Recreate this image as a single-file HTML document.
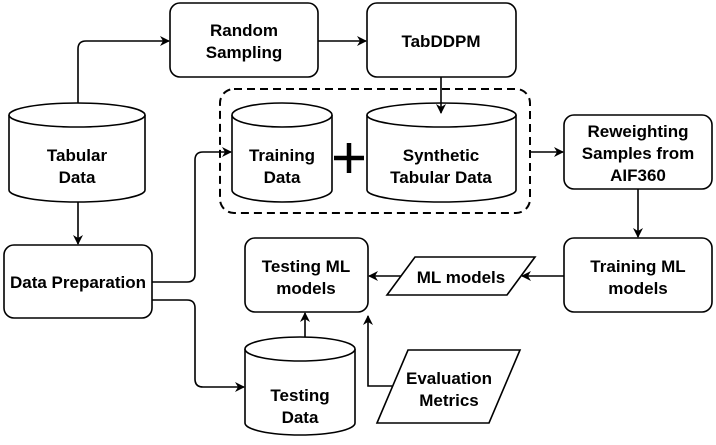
<!DOCTYPE html>
<html><head><meta charset="utf-8"><style>body{margin:0;background:#fff}</style></head><body>
<svg width="716" height="440" viewBox="0 0 716 440" xmlns="http://www.w3.org/2000/svg" font-family="Liberation Sans, sans-serif" font-weight="bold" font-size="17">
<defs><marker id="a" markerWidth="10" markerHeight="10" refX="9" refY="5" orient="auto" markerUnits="userSpaceOnUse"><path d="M0,0 L10,5 L0,10 L3,5 z" fill="#000"/></marker></defs>
<g fill="#fff" stroke="#000" stroke-width="1.6">
<rect x="170" y="3" width="148" height="74" rx="10"/>
<rect x="367" y="3" width="149" height="74" rx="10"/>
<rect x="220" y="89" width="310" height="124" rx="14" stroke-dasharray="8,5" stroke-width="2" fill="none"/>
<rect x="564" y="115" width="148" height="74" rx="10"/>
<rect x="564" y="238" width="148" height="74" rx="10"/>
<rect x="245" y="238" width="123" height="74" rx="10"/>
<rect x="4" y="245" width="148" height="73" rx="10"/>
<path d="M387,295 L415,257 L535,257 L507,295 z"/>
<path d="M377,423 L408,350 L520,350 L489,423 z"/>
<path d="M9,115 v75 a68,12 0 0 0 136,0 v-75"/><ellipse cx="77" cy="115" rx="68" ry="12"/>
<path d="M232,115 v75 a50,12 0 0 0 100,0 v-75"/><ellipse cx="282" cy="115" rx="50" ry="12"/>
<path d="M367,115 v75 a74.5,12 0 0 0 149,0 v-75"/><ellipse cx="441.5" cy="115" rx="74.5" ry="12"/>
<path d="M245,349 v74 a55,12 0 0 0 110,0 v-74"/><ellipse cx="300" cy="349" rx="55" ry="12"/>
</g>
<g fill="none" stroke="#000" stroke-width="1.6">
<path d="M78,103 V49 q0,-8 8,-8 H169" marker-end="url(#a)"/>
<path d="M318,41 H366" marker-end="url(#a)"/>
<path d="M441,77 V113" marker-end="url(#a)"/>
<path d="M78,202 V244" marker-end="url(#a)"/>
<path d="M152,282 H187 q8,0 8,-8 V160 q0,-8 8,-8 H231" marker-end="url(#a)"/>
<path d="M152,300 H187 q8,0 8,8 V379 q0,8 8,8 H244" marker-end="url(#a)"/>
<path d="M530,152 H563" marker-end="url(#a)"/>
<path d="M638,189 V237" marker-end="url(#a)"/>
<path d="M564,276 H522" marker-end="url(#a)"/>
<path d="M401,276 H369" marker-end="url(#a)"/>
<path d="M305,337 V313" marker-end="url(#a)"/>
<path d="M392,386 H368 V316" marker-end="url(#a)"/>
</g>
<g stroke="#000" stroke-width="4.5"><path d="M334,158 H364 M349,143 V173"/></g>
<g text-anchor="middle" fill="#000">
<text x="244" y="36">Random</text><text x="244" y="58">Sampling</text>
<text x="441" y="47">TabDDPM</text>
<text x="77" y="161">Tabular</text><text x="77" y="183">Data</text>
<text x="282" y="161">Training</text><text x="282" y="183">Data</text>
<text x="441" y="161">Synthetic</text><text x="441" y="183">Tabular Data</text>
<text x="638" y="137">Reweighting</text><text x="638" y="159">Samples from</text><text x="638" y="181">AIF360</text>
<text x="638" y="272">Training ML</text><text x="638" y="294">models</text>
<text x="461" y="283">ML models</text>
<text x="306" y="272">Testing ML</text><text x="306" y="294">models</text>
<text x="78" y="288">Data Preparation</text>
<text x="300" y="401">Testing</text><text x="300" y="423">Data</text>
<text x="449" y="384">Evaluation</text><text x="449" y="406">Metrics</text>
</g>
</svg>
</body></html>
